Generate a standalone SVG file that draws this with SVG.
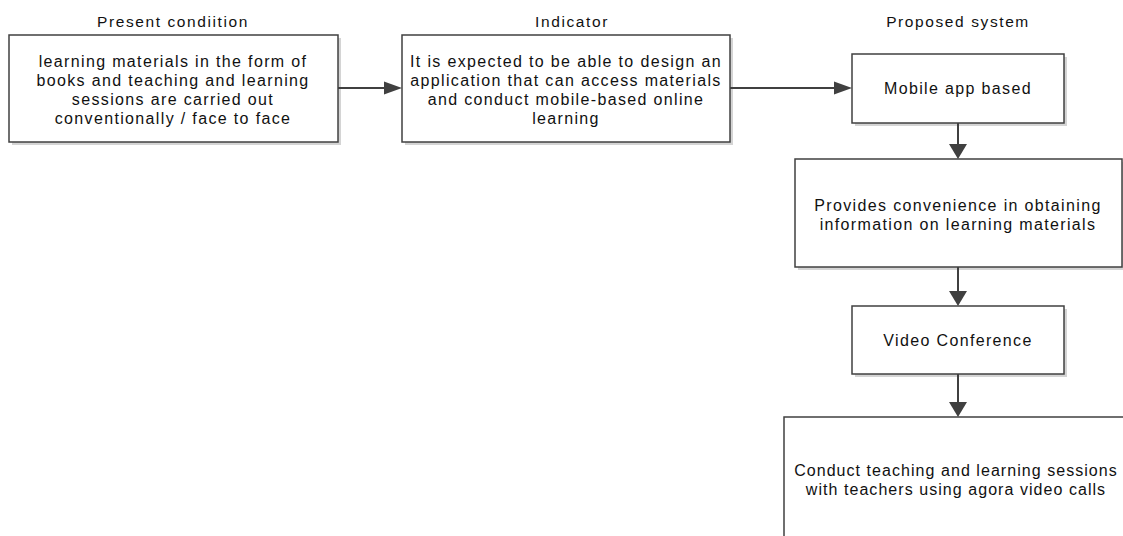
<svg xmlns="http://www.w3.org/2000/svg" width="1123" height="536" viewBox="0 0 1123 536">
<style>
.box{fill:#ffffff;stroke:#404040;stroke-width:1.5}
.shadow{fill:#d4d4d4}
.t{font-family:"Liberation Sans",Arial,sans-serif;font-size:16px;letter-spacing:1.35px;fill:#111;text-anchor:middle}
.tn{letter-spacing:1.05px}
.h{font-family:"Liberation Sans",Arial,sans-serif;font-size:15.5px;letter-spacing:1.6px;fill:#111;text-anchor:middle}
.c{stroke:#404040;stroke-width:2;fill:none}
.ah{fill:#404040}
</style>
<rect width="1123" height="536" fill="#ffffff"/>
<g id="headers">
<text class="h" x="173" y="27">Present condiition</text>
<text class="h" x="572" y="27">Indicator</text>
<text class="h" x="958" y="27">Proposed system</text>
</g>
<g id="node-present">
<rect class="shadow" x="12" y="38" width="329" height="107"/>
<rect class="box" x="9" y="35" width="329" height="107"/>
<text class="t" x="173" y="67">learning materials in the form of</text>
<text class="t" x="173" y="86">books and teaching and learning</text>
<text class="t" x="173" y="105">sessions are carried out</text>
<text class="t" x="173" y="124">conventionally / face to face</text>
</g>
<g id="node-indicator">
<rect class="shadow" x="405" y="38" width="328" height="107"/>
<rect class="box" x="402" y="35" width="328" height="107"/>
<text class="t" x="566" y="67">It is expected to be able to design an</text>
<text class="t" x="566" y="86">application that can access materials</text>
<text class="t" x="566" y="105">and conduct mobile-based online</text>
<text class="t" x="566" y="124">learning</text>
</g>
<g id="node-mobile">
<rect class="shadow" x="855" y="57" width="212" height="69"/>
<rect class="box" x="852" y="54" width="212" height="69"/>
<text class="t" x="958" y="94">Mobile app based</text>
</g>
<g id="node-convenience">
<rect class="shadow" x="798" y="162" width="327" height="108"/>
<rect class="box" x="795" y="159" width="327" height="108"/>
<text class="t" x="958" y="211">Provides convenience in obtaining</text>
<text class="t" x="958" y="230">information on learning materials</text>
</g>
<g id="node-video">
<rect class="shadow" x="855" y="309" width="212" height="68"/>
<rect class="box" x="852" y="306" width="212" height="68"/>
<text class="t" x="958" y="346">Video Conference</text>
</g>
<g id="node-conduct">
<rect class="box" x="784" y="417" width="345" height="130"/>
<text class="t tn" x="956" y="476">Conduct teaching and learning sessions</text>
<text class="t tn" x="956" y="495">with teachers using agora video calls</text>
</g>
<g id="connectors">
<line class="c" x1="338" y1="88" x2="386" y2="88"/>
<polygon class="ah" points="402,88 384,81.5 384,94.5"/>
<line class="c" x1="730" y1="88" x2="836" y2="88"/>
<polygon class="ah" points="852,88 834,81.5 834,94.5"/>
<line class="c" x1="958" y1="123" x2="958" y2="146"/>
<polygon class="ah" points="958,159 949,144 967,144"/>
<line class="c" x1="958" y1="267" x2="958" y2="293"/>
<polygon class="ah" points="958,306 949,291 967,291"/>
<line class="c" x1="958" y1="374" x2="958" y2="404"/>
<polygon class="ah" points="958,417 949,402 967,402"/>
</g>
</svg>
